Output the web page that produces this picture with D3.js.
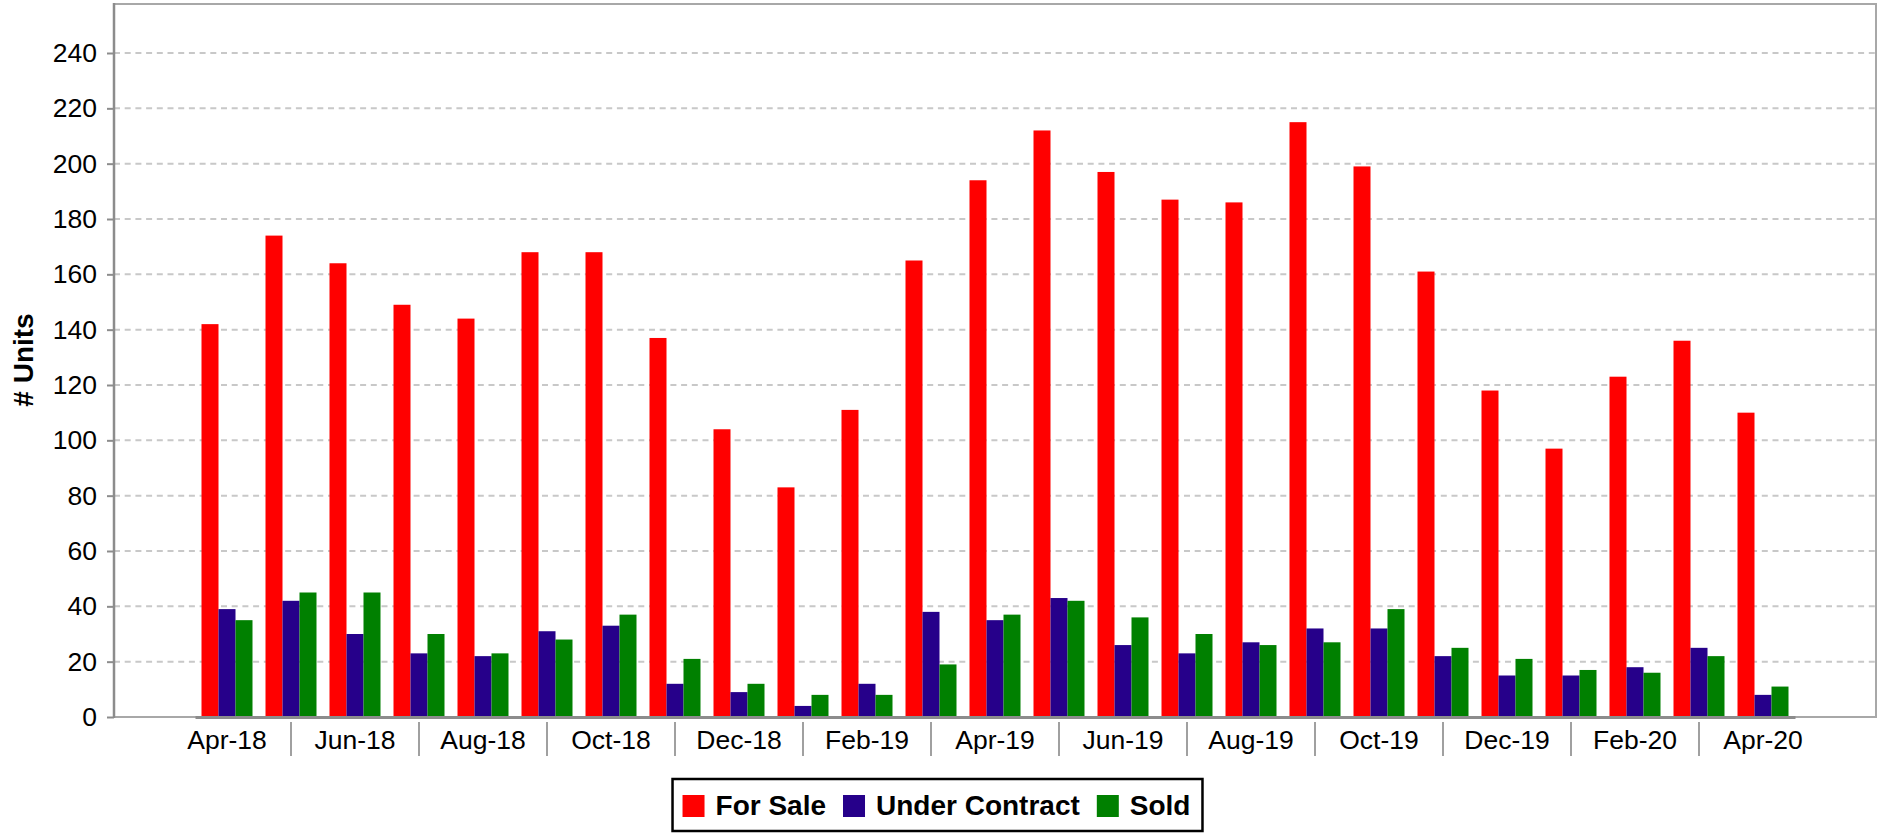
<!DOCTYPE html>
<html lang="en">

<head>
    <meta charset="UTF-8">
    <title>Units</title>
    <script src="https://cdn.jsdelivr.net/npm/d3@7"></script>
    <style>
        * {
            margin: 0;
        }

        body {
            background: #fff;
        }

        svg {
            display: block;
            font-family: "Liberation Sans", Arial, sans-serif;
        }
    </style>
</head>

<body>
    <svg id="chart" width="1886" height="833"></svg>
    <script>
        // data
        var months = ['Apr-18', 'May-18', 'Jun-18', 'Jul-18', 'Aug-18', 'Sep-18', 'Oct-18', 'Nov-18', 'Dec-18',
            'Jan-19', 'Feb-19', 'Mar-19', 'Apr-19', 'May-19', 'Jun-19', 'Jul-19', 'Aug-19', 'Sep-19', 'Oct-19',
            'Nov-19', 'Dec-19', 'Jan-20', 'Feb-20', 'Mar-20', 'Apr-20'];
        var forSale = [142, 174, 164, 149, 144, 168, 168, 137, 104, 83, 111, 165, 194, 212, 197, 187, 186, 215, 199, 161, 118, 97, 123, 136, 110];
        var underContract = [39, 42, 30, 23, 22, 31, 33, 12, 9, 4, 12, 38, 35, 43, 26, 23, 27, 32, 32, 22, 15, 15, 18, 25, 8];
        var sold = [35, 45, 45, 30, 23, 28, 37, 21, 12, 8, 8, 19, 37, 42, 36, 30, 26, 27, 39, 25, 21, 17, 16, 22, 11];
        var seriesNames = ['For Sale', 'Under Contract', 'Sold'];
        var seriesColors = ['#ff0000', '#26008a', '#008000'];
        var xLabels = ['Apr-18', 'Jun-18', 'Aug-18', 'Oct-18', 'Dec-18', 'Feb-19', 'Apr-19', 'Jun-19', 'Aug-19',
            'Oct-19', 'Dec-19', 'Feb-20', 'Apr-20'];
        var yTicks = [0, 20, 40, 60, 80, 100, 120, 140, 160, 180, 200, 220, 240];

        var series = [forSale, underContract, sold];

        // plot frame (note: "top" is taken by window.top)
        var plotL = 114, plotR = 1876, plotT = 4, base = 717;

        var svg = d3.select('#chart');

        var x = d3.scaleBand()
            .domain(months)
            .range([195, 1795]);

        var xs = d3.scaleBand()
            .domain(seriesNames)
            .range([6.5, x.bandwidth() - 6.5]);

        var y = d3.scaleLinear()
            .domain([0, 240])
            .range([base, 53]);

        // border
        svg.append('rect')
            .attr('x', plotL)
            .attr('y', plotT)
            .attr('width', plotR - plotL)
            .attr('height', base - plotT)
            .attr('fill', 'none')
            .attr('stroke', '#a8a8a8')
            .attr('stroke-width', 2);

        // dashed grid
        svg.append('g')
            .selectAll('line')
            .data(yTicks.filter(function (d) { return d > 0; }))
            .enter()
            .append('line')
            .attr('x1', plotL)
            .attr('x2', plotR)
            .attr('y1', function (d) { return y(d); })
            .attr('y2', function (d) { return y(d); })
            .attr('stroke', '#c8c8c8')
            .attr('stroke-width', 2)
            .attr('stroke-dasharray', '6,4.7');

        // bars
        var groups = svg.append('g')
            .selectAll('g')
            .data(series)
            .enter()
            .append('g')
            .attr('fill', function (d, i) { return seriesColors[i]; });

        groups.each(function (vals, si) {
            d3.select(this)
                .selectAll('rect')
                .data(vals)
                .enter()
                .append('rect')
                .attr('x', function (d, i) { return x(months[i]) + xs(seriesNames[si]); })
                .attr('y', function (d) { return y(d); })
                .attr('width', xs.bandwidth())
                .attr('height', function (d) { return y(0) - y(d); });
        });

        // y axis
        var yAxis = svg.append('g')
            .attr('transform', 'translate(' + plotL + ',0)')
            .call(d3.axisLeft(y).tickValues(yTicks).tickSize(7).tickPadding(10));
        yAxis.select('.domain').remove();
        yAxis.selectAll('line').attr('stroke', '#8c8c8c').attr('stroke-width', 2);
        yAxis.selectAll('text')
            .attr('fill', '#000')
            .style('font-size', '26.5px');

        svg.append('line')
            .attr('x1', plotL)
            .attr('x2', plotL)
            .attr('y1', plotT - 1)
            .attr('y2', base + 1)
            .attr('stroke', '#8c8c8c')
            .attr('stroke-width', 2.5);

        // x axis
        var xAxis = svg.append('g')
            .attr('transform', 'translate(0,' + base + ')')
            .call(d3.axisBottom(x).tickValues(xLabels).tickSize(0));
        xAxis.select('.domain')
            .attr('stroke', '#8c8c8c')
            .attr('stroke-width', 3);
        xAxis.selectAll('text')
            .attr('fill', '#000')
            .attr('y', 32)
            .attr('dy', 0)
            .style('font-size', '26.5px');

        // separators between label groups
        svg.append('g')
            .selectAll('line')
            .data(months.filter(function (d, i) { return i % 2 == 1; }))
            .enter()
            .append('line')
            .attr('x1', function (d) { return x(d) + x.bandwidth() / 2; })
            .attr('x2', function (d) { return x(d) + x.bandwidth() / 2; })
            .attr('y1', 722)
            .attr('y2', 756)
            .attr('stroke', '#a0a0a0')
            .attr('stroke-width', 2);

        // axis title
        svg.append('text')
            .attr('transform', 'translate(33,360) rotate(-90)')
            .attr('text-anchor', 'middle')
            .style('font-size', '28px')
            .style('font-weight', 'bold')
            .text('# Units');

        // legend
        var legend = svg.append('g');
        var box = legend.append('rect')
            .attr('fill', '#fff')
            .attr('stroke', '#000')
            .attr('stroke-width', 2.5);

        var lx = 0;
        var items = legend.selectAll('g.item')
            .data(seriesNames)
            .enter()
            .append('g')
            .attr('class', 'item');

        items.each(function (d, i) {
            var g = d3.select(this);
            g.append('rect')
                .attr('x', lx)
                .attr('y', 795)
                .attr('width', 22)
                .attr('height', 22)
                .attr('fill', seriesColors[i]);
            var t = g.append('text')
                .attr('x', lx + 33)
                .attr('y', 815)
                .style('font-size', '28px')
                .style('font-weight', 'bold')
                .text(d);
            lx += 33 + t.node().getComputedTextLength() + 17;
        });

        var legendW = lx - 17 + 22;
        var lx0 = 937.5 - legendW / 2;
        items.attr('transform', 'translate(' + (lx0 + 10) + ',0)');
        box.attr('x', lx0)
            .attr('y', 779)
            .attr('width', legendW)
            .attr('height', 52);
    </script>
</body>

</html>
